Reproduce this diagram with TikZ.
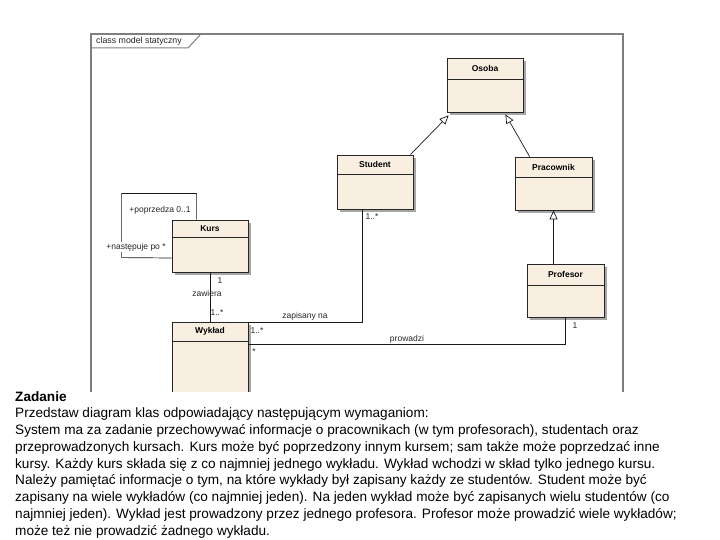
\documentclass[tikz,border=0pt]{standalone}
\usepackage{fontspec}
\setmainfont{Liberation Sans}
\usetikzlibrary{positioning, arrows.meta, shadows}
\definecolor{clsfill}{HTML}{F8EFE1}
\definecolor{clsshadow}{HTML}{A6A6A6}
\definecolor{framegray}{HTML}{7F7F7F}

\begin{document}
\begin{tikzpicture}[
    x=1pt, y=-1pt,
    cls/.style={draw=black!85, fill=clsfill, line width=0.8pt, inner sep=0pt,
      drop shadow={shadow xshift=3pt, shadow yshift=-3pt, fill=clsshadow, opacity=1}},
    clsname/.style={font=\fontsize{8.5}{9}\selectfont\bfseries, inner sep=0pt},
    lbl/.style={font=\fontsize{8.5}{9}\selectfont, text=black!85, inner sep=1pt},
    assoc/.style={draw=black!90, line width=0.7pt},
    gen/.style={draw=black!90, line width=0.7pt, -{Triangle[open, length=9pt, width=8pt]}}
  ]
  \useasboundingbox (0,0) rectangle (720,540);
  \begin{scope}
    \clip (0,0) rectangle (720,391);
    % ramka diagramu
    \draw[framegray, line width=1.3pt] (91,400) |- (623,34) -- (623,400);
    \draw[framegray, line width=1pt] (91,48) -- (188,48) -- (200,35);
    \node[lbl, font=\fontsize{8.8}{9}\selectfont] (frametitle) at (139,41) {class model statyczny};

    % klasy
    \node[cls, minimum width=76pt, minimum height=54pt] (osoba) at (485,85) {};
    \node[clsname] (osobaT) at ([yshift=-11pt]osoba.north) {Osoba};
    \draw[black!85, line width=0.8pt] ([yshift=-22pt]osoba.north west) -- ([yshift=-22pt]osoba.north east);

    \node[cls, minimum width=76pt, minimum height=54pt] (student) at (375,182) {};
    \node[clsname] (studentT) at ([yshift=-10pt]student.north) {Student};
    \draw[black!85, line width=0.8pt] ([yshift=-20pt]student.north west) -- ([yshift=-20pt]student.north east);

    \node[cls, minimum width=77pt, minimum height=53pt] (pracownik) at (553.5,183.5) {};
    \node[clsname] (pracownikT) at ([yshift=-10.5pt]pracownik.north) {Pracownik};
    \draw[black!85, line width=0.8pt] ([yshift=-21pt]pracownik.north west) -- ([yshift=-21pt]pracownik.north east);

    \node[cls, minimum width=77pt, minimum height=53pt] (profesor) at (565.5,290.5) {};
    \node[clsname] (profesorT) at ([yshift=-11pt]profesor.north) {Profesor};
    \draw[black!85, line width=0.8pt] ([yshift=-22pt]profesor.north west) -- ([yshift=-22pt]profesor.north east);

    \node[cls, minimum width=76pt, minimum height=52pt] (kurs) at (210,246) {};
    \node[clsname] (kursT) at ([yshift=-9pt]kurs.north) {Kurs};
    \draw[black!85, line width=0.8pt] ([yshift=-18pt]kurs.north west) -- ([yshift=-18pt]kurs.north east);

    \node[cls, minimum width=76pt, minimum height=70pt] (wyklad) at (210,357) {};
    \node[clsname] (wykladT) at ([yshift=-10pt]wyklad.north) {Wykład};
    \draw[black!85, line width=0.8pt] ([yshift=-20pt]wyklad.north west) -- ([yshift=-20pt]wyklad.north east);

    % dziedziczenie
    \draw[gen] ([xshift=-3pt]student.north east) -- ([xshift=2pt, yshift=-3pt]osoba.south west);
    \draw[gen] ([xshift=15pt]pracownik.north west) -- ([xshift=-18pt, yshift=-2pt]osoba.south east);
    \draw[gen] (profesor.north -| pracownik.south) -- (pracownik.south);

    % asocjacje
    \draw[assoc] ([xshift=25pt]kurs.north west) -- ++(0,-26) -- ++(-75,0) -- ++(0,64) -- ([yshift=-12pt]kurs.west);
    \node[lbl] (poprzedza) at (160,210) {+poprzedza 0..1};
    \node[lbl, fill=white] (nastepuje) at (136,247) {+następuje po *};

    \draw[assoc] (kurs.south) -- (wyklad.north);
    \node[lbl] (zawieraKurs) at (220,281) {1};
    \node[lbl] (zawiera) at (207,293) {zawiera};
    \node[lbl] (zawieraWyklad) at (217,313) {1..*};

    \draw[assoc] ([xshift=-13pt]student.south) |- ([yshift=-1pt]wyklad.north east);
    \node[lbl] (zapisanyStudent) at (372,217) {1..*};
    \node[lbl] (zapisany) at (305,316) {zapisany na};
    \node[lbl] (zapisanyWyklad) at (257,331) {1..*};

    \draw[assoc] (profesor.south) |- ([yshift=-23pt]wyklad.north east);
    \node[lbl] (prowadziProfesor) at (575,326) {1};
    \node[lbl] (prowadzi) at (407,339) {prowadzi};
    \node[lbl] (prowadziWyklad) at (254,352) {*};
  \end{scope}

  % tresc zadania
  \node[anchor=north west, align=left, inner sep=0pt, font=\fontsize{13.6}{16.75}\selectfont] (zadanie) at (15,391)
    {\textbf{Zadanie}\\
     Przedstaw diagram klas odpowiadający następującym wymaganiom:\\
     System ma za zadanie przechowywać informacje o pracownikach (w tym profesorach), studentach oraz\\
     przeprowadzonych kursach. Kurs może być poprzedzony innym kursem; sam także może poprzedzać inne\\
     kursy. Każdy kurs składa się z co najmniej jednego wykładu. Wykład wchodzi w skład tylko jednego kursu.\\
     Należy pamiętać informacje o tym, na które wykłady był zapisany każdy ze studentów. Student może być\\
     zapisany na wiele wykładów (co najmniej jeden). Na jeden wykład może być zapisanych wielu studentów (co\\
     najmniej jeden). Wykład jest prowadzony przez jednego profesora. Profesor może prowadzić wiele wykładów;\\
     może też nie prowadzić żadnego wykładu.};
\end{tikzpicture}
\end{document}
